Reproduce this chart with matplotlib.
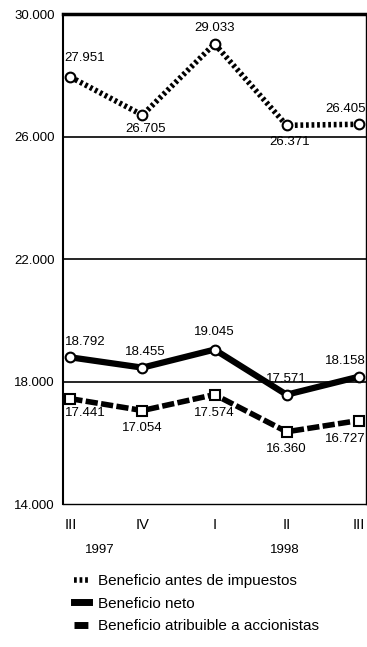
import matplotlib
matplotlib.use("Agg")
import matplotlib.pyplot as plt
from matplotlib.lines import Line2D

quarters = ["III", "IV", "I", "II", "III"]
years = ["1997", "1998"]
antes_impuestos = [27951, 26705, 29033, 26371, 26405]
neto = [18792, 18455, 19045, 17571, 18158]
atribuible = [17441, 17054, 17574, 16360, 16727]
yticks = [14000, 18000, 22000, 26000, 30000]
series_names = ["Beneficio antes de impuestos", "Beneficio neto",
                "Beneficio atribuible a accionistas"]

plt.rcParams["font.family"] = ["Liberation Sans", "DejaVu Sans"]

def fmt(v):
    return f"{v:,}".replace(",", ".")

fig = plt.figure(figsize=(3.67, 6.47), dpi=100)
ax = fig.add_axes([0.172, 0.221, 0.825, 0.757])
x = list(range(len(quarters)))

for y in yticks[1:-1]:
    ax.axhline(y, color="black", lw=1.2, zorder=1)

ax.plot(x, antes_impuestos, color="black", lw=4, linestyle=(0, (0.5, 0.5)),
        marker="o", markersize=7, markerfacecolor="white", markeredgecolor="black",
        markeredgewidth=1.5, zorder=3)
ax.plot(x, neto, color="black", lw=4.5, solid_capstyle="butt",
        marker="o", markersize=7, markerfacecolor="white", markeredgecolor="black",
        markeredgewidth=1.5, zorder=3)
ax.plot(x, atribuible, color="black", lw=4, linestyle=(0, (2.2, 0.6)),
        marker="s", markersize=7, markerfacecolor="white", markeredgecolor="black",
        markeredgewidth=1.5, zorder=3)

fs = 9.5

def label(series, offsets):
    for i, v in enumerate(series):
        dx, dy = offsets[i]
        va = "bottom" if dy > 0 else "top"
        ha = "left" if i == 0 else ("right" if i == len(series) - 1 else "center")
        ax.annotate(fmt(v), (x[i], v), xytext=(dx, dy), textcoords="offset points",
                    ha=ha, va=va, fontsize=fs)

label(antes_impuestos, [(-4, 9), (2, -6), (0, 7), (2, -8), (5, 7)])
label(neto, [(-4, 7), (2, 7), (0, 8), (0, 7), (5, 7)])
label(atribuible, [(-4, -6), (0, -8), (0, -9), (0, -8), (5, -9)])

ax.set_xlim(-0.1, 4.1)
ax.set_ylim(yticks[0], yticks[-1])
ax.set_yticks(yticks)
ax.set_yticklabels([fmt(v) for v in yticks], fontsize=fs)
ax.set_xticks(x)
ax.set_xticklabels(quarters, fontsize=fs + 1)
ax.tick_params(axis="both", length=0, pad=6)
ax.tick_params(axis="x", pad=10)
for s in ["left", "bottom", "right"]:
    ax.spines[s].set_linewidth(1.0)
ax.spines["top"].set_linewidth(2.5)
ax.spines["left"].set_linewidth(1.5)

fig.text(100 / 367, 1 - 550 / 647, years[0], ha="center", va="center", fontsize=fs)
fig.text(285 / 367, 1 - 550 / 647, years[1], ha="center", va="center", fontsize=fs)

handles = [
    Line2D([], [], color="black", lw=4, linestyle=(0, (0.5, 0.5))),
    Line2D([], [], color="black", lw=5),
    Line2D([], [], color="black", lw=5, linestyle=(0, (2.0, 0.5))),
]
fig.legend(handles, series_names, loc="upper left", bbox_to_anchor=(0.185, 0.122),
           frameon=False, fontsize=11, handlelength=1.0, handletextpad=0.6,
           labelspacing=0.55, borderaxespad=0)

fig.savefig("out.png", dpi=100)
